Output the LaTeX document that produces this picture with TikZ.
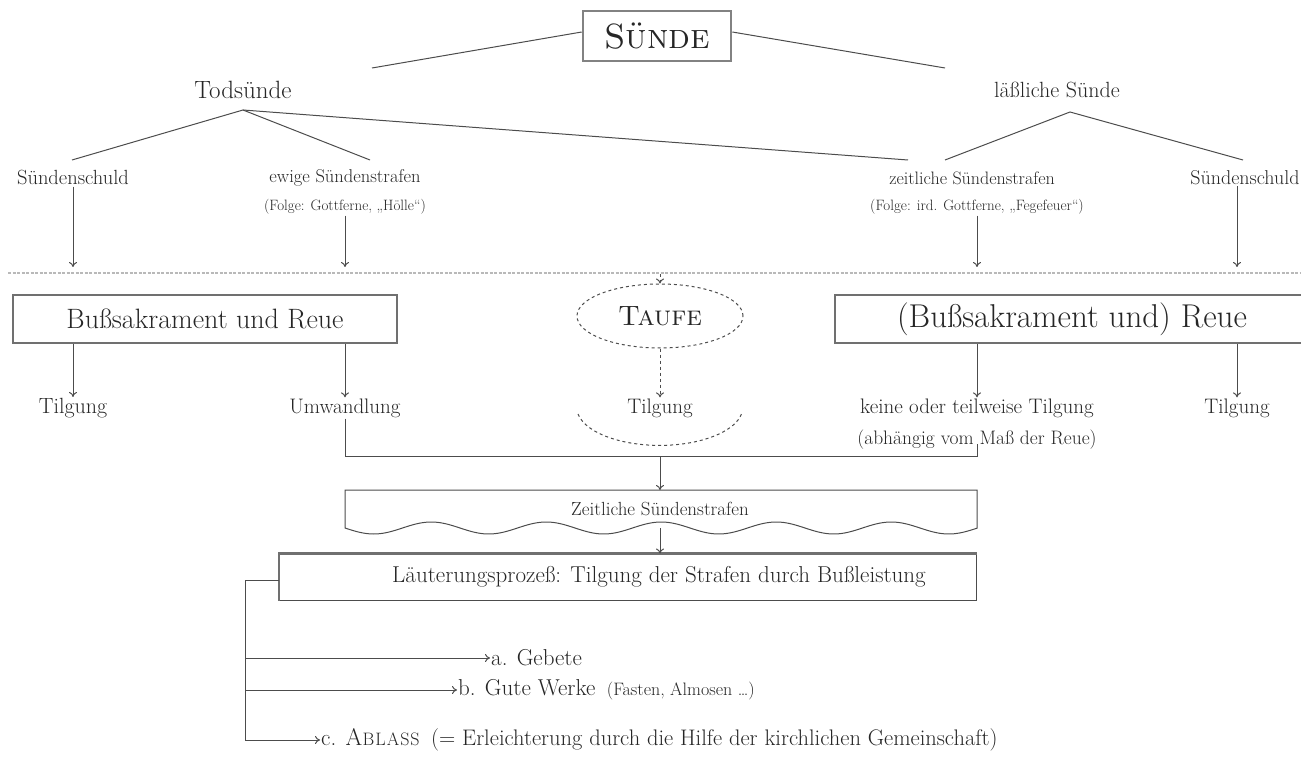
\documentclass[tikz,border=0pt]{standalone}
\usetikzlibrary{arrows.meta,shapes.geometric}
\definecolor{ink}{gray}{0.15}
\definecolor{lncol}{gray}{0.3}
\newcommand{\fs}[1]{\fontsize{#1}{#1}\selectfont}
\begin{document}
\begin{tikzpicture}[x=1pt,y=-1pt,
  every node/.style={text=ink, inner sep=1pt},
  conn/.style={draw=lncol, line width=1pt},
  arr/.style={conn, -{To[length=5pt,width=8pt]}},
  darr/.style={arr, dashed},
  bigbox/.style={draw=lncol!80, line width=2pt, rectangle, minimum height=48pt},
]
\useasboundingbox (0,0) rectangle (1301,767);
\clip (0,0) rectangle (1301,767);

% top
\node[draw=lncol!70, line width=2.6pt, minimum width=148pt, minimum height=50pt] (sunde) at (657,36) {\fs{35}\textsc{Sünde}};
\node (tod) at (243,90) {\fs{25}Todsünde};
\node (lass) at (1057,90) {\fs{22}läßliche Sünde};
\coordinate (tl) at (372,68);
\coordinate (lr) at (945,68);
\draw[conn] ([yshift=4pt]sunde.west) -- (tl);
\draw[conn] ([yshift=4pt]sunde.east) -- (lr);

\coordinate (tapex) at (243,110);
\coordinate (lapex) at (1070,112);
\coordinate (e1) at (72,160);
\coordinate (e2) at (370,160);
\coordinate (e3) at (908,160);
\coordinate (e4) at (945,160);
\coordinate (e5) at (1243,160);
\draw[conn] (e1) -- (tapex) -- (e2);
\draw[conn] (tapex) -- (e3);
\draw[conn] (e4) -- (lapex) -- (e5);

% second row
\node (schuldL) at (73,178) {\fs{20.5}Sündenschuld};
\node (ewig) at (345,178) {\fs{18.5}ewige Sündenstrafen};
\node (zeit) at (972,178) {\fs{18}zeitliche Sündenstrafen};
\node (schuldR) at (1245,178) {\fs{20}Sündenschuld};
\node (folgeL) at (345,207) {\fs{15}(Folge: Gottferne, „Hölle“)};
\node (folgeR) at (977,207) {\fs{15}(Folge: ird. Gottferne, „Fegefeuer“)};

\coordinate (d1) at (73,267);
\coordinate (d2) at (345,267);
\coordinate (d3) at (977,267);
\coordinate (d4) at (1237,267);
\draw[arr] (schuldL.south) -- (d1);
\draw[arr] (folgeL.south) -- (d2);
\draw[arr] (folgeR.south) -- (d3);
\draw[arr] (schuldR.south -| d4) -- (d4);

% dotted divider
\coordinate (divL) at (8,273);
\coordinate (divR) at (1301,273);
\draw[draw=gray!55, line width=2.4pt, dash pattern=on 3pt off 1.5pt] (divL) -- (divR);

% boxes
\node[bigbox, minimum width=384pt] (buss) at (205,319) {\fs{28}Bußsakrament und Reue};
\node[bigbox, minimum width=474pt] (buss2) at (1072,319) {\fs{33}(Bußsakrament und) Reue};
\node[draw=lncol, dashed, line width=1pt, ellipse, minimum width=166pt, minimum height=64pt] (taufe) at (660,316) {\fs{28}\textsc{Taufe}};
\coordinate (tt) at (660,274);
\draw[darr] (tt) -- (taufe.north);

% third row
\node (t1) at (73,408) {\fs{22}Tilgung};
\node (umw) at (345,408) {\fs{21}Umwandlung};
\node (t3) at (660,408) {\fs{21}Tilgung};
\node (keine) at (977,408) {\fs{21}keine oder teilweise Tilgung};
\node (t5) at (1237,408) {\fs{21}Tilgung};
\node (abh) at (977,440) {\fs{19.5}(abhängig vom Maß der Reue)};

\draw[arr] (buss.south -| t1) -- (t1.north);
\draw[arr] (buss.south -| umw) -- (umw.north);
\draw[darr] (taufe.south) -- (t3.north);
\draw[arr] (buss2.south -| keine) -- (keine.north);
\draw[arr] (buss2.south -| t5) -- (t5.north);

\draw[draw=lncol, dashed, line width=1pt] ([xshift=-82pt,yshift=-6pt]t3.center) arc[start angle=190, end angle=350, x radius=83pt, y radius=38pt];

% bracket
\coordinate (brL) at (345,456);
\coordinate (brR) at (977,456);
\coordinate (brRt) at (977,444);
\coordinate (brM) at (660,456);
\draw[conn] (umw.south) -- (brL) -- (brR) -- (brRt);

% wavy box
\draw[conn] (345,528) -- (345,490) -- (977,490) -- (977,528)
  -- plot[domain=977:345, samples=220] (\x, {528+6*sin((\x-345)/115*360)}) -- cycle;
\coordinate (wtop) at (660,490);
\coordinate (wbot) at (660,528);
\node (zst) at (660,509) {\fs{19}Zeitliche Sündenstrafen};
\draw[arr] (brM) -- (wtop);

% Läuterung box
\node[draw=lncol, line width=1pt, minimum width=697pt, minimum height=46pt] (laut) at (628,577) {};
\draw[draw=lncol!80, line width=2.4pt] (laut.south west) -- (laut.north west) -- (laut.north east);
\node (lauttxt) at (659,577) {\fs{23}Läuterungsprozeß: Tilgung der Strafen durch Bußleistung};
\draw[arr] (wbot) -- (laut.north -| wbot);

% lower bracket and items
\coordinate (bx) at (245,580);
\coordinate (bbot) at (245,740);
\draw[conn] (laut.west |- bx) -- (bx) -- (bbot);
\node[anchor=west] (ia) at (490,658) {\fs{23}a. Gebete};
\node[anchor=west] (ib) at (457,690) {\fs{23}b. Gute Werke\enspace{\fs{18}(Fasten, Almosen …)}};
\node[anchor=west] (ic) at (320,740) {\fs{23}c. {\fs{24}A\fs{18}\kern0.5pt B\kern1pt L\kern1pt A\kern1pt S\kern1pt S}\enspace{\fs{22.5}(= Erleichterung durch die Hilfe der kirchlichen Gemeinschaft)}};
\draw[arr] (bx |- ia.west) -- (ia.west);
\draw[arr] (bx |- ib.west) -- (ib.west);
\draw[arr] (bbot) -- (ic.west);
\end{tikzpicture}
\end{document}
